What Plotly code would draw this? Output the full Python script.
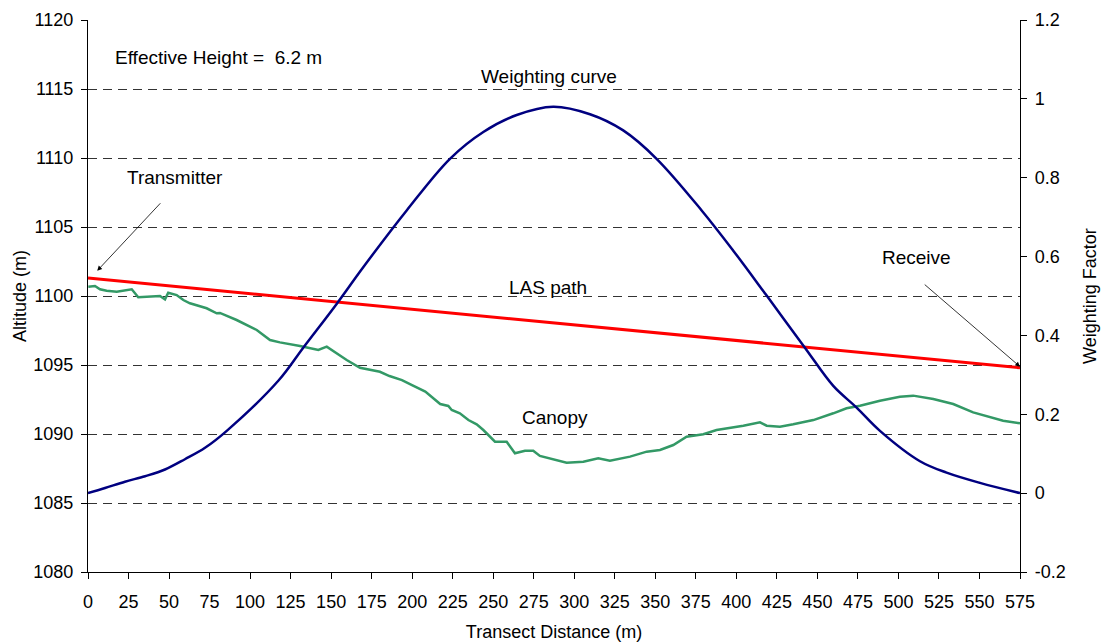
import plotly.graph_objects as go

# ---------------- data ----------------
x_ticks = list(range(0, 576, 25))

las_x = [0, 575]
las_alt = [1101.3, 1094.8]

canopy_x = [0.2, 4.3, 7.4, 11.5, 17.7, 27.0, 31.0, 36.2, 44.4, 47.5, 49.5, 54.7, 58.8, 62.9,
            73.2, 79.4, 81.4, 91.7, 97.9, 104.1, 112.3, 118.4, 130.8, 142.1, 147.3, 153.4,
            159.6, 167.8, 180.1, 186.0, 193.7, 199.9, 208.1, 217.3, 222.3, 224.4, 229.4,
            234.7, 239.8, 243.9, 247.0, 251.1, 258.3, 263.4, 269.6, 274.7, 278.8, 289.1,
            295.3, 305.6, 314.8, 322.0, 334.4, 344.7, 352.9, 361.1, 369.3, 379.6, 387.8,
            404.3, 414.6, 418.7, 426.9, 435.1, 447.5, 459.8, 468.0, 476.3, 488.6, 500.9,
            509.1, 521.5, 533.8, 546.1, 556.4, 564.6, 575.0]
canopy_alt = [1100.67, 1100.72, 1100.49, 1100.38, 1100.31, 1100.49, 1099.91, 1099.95, 1100.0,
              1099.76, 1100.24, 1100.07, 1099.71, 1099.47, 1099.11, 1098.75, 1098.77, 1098.26,
              1097.90, 1097.54, 1096.81, 1096.64, 1096.38, 1096.09, 1096.33, 1095.85, 1095.36,
              1094.80, 1094.51, 1094.20, 1093.91, 1093.55, 1093.07, 1092.17, 1092.03, 1091.74,
              1091.50, 1091.01, 1090.70, 1090.29, 1089.93, 1089.44, 1089.44, 1088.60, 1088.79,
              1088.79, 1088.41, 1088.12, 1087.92, 1087.99, 1088.24, 1088.07, 1088.36, 1088.72,
              1088.84, 1089.20, 1089.80, 1089.98, 1090.29, 1090.60, 1090.85, 1090.60, 1090.53,
              1090.70, 1091.01, 1091.50, 1091.86, 1092.05, 1092.41, 1092.70, 1092.78, 1092.54,
              1092.17, 1091.57, 1091.21, 1090.96, 1090.78]

weight_x = [0, 10.5, 22.8, 35.2, 47.5, 59.8, 72.2, 85.6, 117.4, 132.8, 153.4, 169.8,
            196.6, 223.3, 243.9, 264.5, 287.0, 309.7, 330.2, 350.8, 378.6, 398.1, 418.7,
            442.3, 459.8, 474.2, 488.6, 513.3, 529.7, 550.3, 575]
weight_val = [0.0, 0.013, 0.029, 0.043, 0.060, 0.086, 0.115, 0.158, 0.285, 0.369, 0.480,
              0.573, 0.717, 0.848, 0.916, 0.959, 0.980, 0.961, 0.920, 0.848, 0.717,
              0.615, 0.501, 0.369, 0.272, 0.217, 0.158, 0.081, 0.052, 0.026, 0.0]

left_ticks = [1080, 1085, 1090, 1095, 1100, 1105, 1110, 1115, 1120]
right_ticks = [-0.2, 0, 0.2, 0.4, 0.6, 0.8, 1.0, 1.2]
right_labels = ["-0.2", "0", "0.2", "0.4", "0.6", "0.8", "1", "1.2"]

FONT = "Liberation Sans, Arial, sans-serif"
AX_FONT = dict(family=FONT, size=18, color="black")

fig = go.Figure()
fig.add_trace(go.Scatter(x=canopy_x, y=canopy_alt, mode="lines", name="Canopy",
                         line=dict(color="#339966", width=2.5)))
fig.add_trace(go.Scatter(x=las_x, y=las_alt, mode="lines", name="LAS path",
                         line=dict(color="#FF0000", width=3)))
fig.add_trace(go.Scatter(x=weight_x, y=weight_val, mode="lines", name="Weighting curve",
                         yaxis="y2",
                         line=dict(color="#000080", width=2.5, shape="spline", smoothing=1.0)))

annos = [
    dict(x=15.4, y=1117.3, text="Effective Height =  6.2 m", xanchor="left"),
    dict(x=284.4, y=1115.9, text="Weighting curve", xanchor="center"),
    dict(x=22.8, y=1108.6, text="Transmitter", xanchor="left"),
    dict(x=283.8, y=1100.65, text="LAS path", xanchor="center"),
    dict(x=288.0, y=1091.2, text="Canopy", xanchor="center"),
    dict(x=488.6, y=1102.8, text="Receive", xanchor="left"),
]
annotations = []
for a in annos:
    a.update(xref="x", yref="y", showarrow=False, yanchor="middle",
             font=dict(family=FONT, size=19, color="black"))
    annotations.append(a)

for (hx, hy, tx, ty) in [(5.7, 1101.83, 45.5, 1106.83), (575, 1094.88, 515.3, 1100.92)]:
    annotations.append(dict(x=hx, y=hy, ax=tx, ay=ty, xref="x", yref="y", axref="x", ayref="y",
                            text="", showarrow=True, arrowhead=2, arrowsize=1.2,
                            arrowwidth=0.8, arrowcolor="black"))

fig.update_layout(
    width=1101, height=644,
    margin=dict(l=88, r=81, t=20, b=72, autoexpand=False),
    paper_bgcolor="white", plot_bgcolor="white",
    showlegend=False,
    font=dict(family=FONT, size=18, color="black"),
    annotations=annotations,
    xaxis=dict(range=[0, 575], tickvals=x_ticks, showgrid=False, zeroline=False,
               showline=True, linecolor="black", linewidth=1.2, automargin=False,
               ticks="outside", ticklen=6, tickcolor="black", tickfont=AX_FONT,
               ticklabelstandoff=7,
               title=dict(text="Transect Distance (m)", standoff=14, font=AX_FONT)),
    yaxis=dict(range=[1080, 1120], tickvals=left_ticks, showgrid=True,
               gridcolor="#333333", griddash="9px,6px", gridwidth=1,
               zeroline=False, showline=True, linecolor="black", linewidth=1.2,
               automargin=False,
               ticks="outside", ticklen=6, tickcolor="black", tickfont=AX_FONT,
               ticklabelstandoff=4,
               title=dict(text="Altitude (m)", standoff=1, font=AX_FONT)),
    yaxis2=dict(range=[-0.2, 1.2], tickvals=right_ticks, ticktext=right_labels,
                overlaying="y", side="right", showgrid=False, zeroline=False,
                showline=True, linecolor="black", linewidth=1.2, automargin=False,
                ticks="outside", ticklen=6, tickcolor="black", tickfont=AX_FONT,
                ticklabelstandoff=4,
                title=dict(text="Weighting Factor", standoff=18, font=AX_FONT)),
)

fig.write_html("out.html")
